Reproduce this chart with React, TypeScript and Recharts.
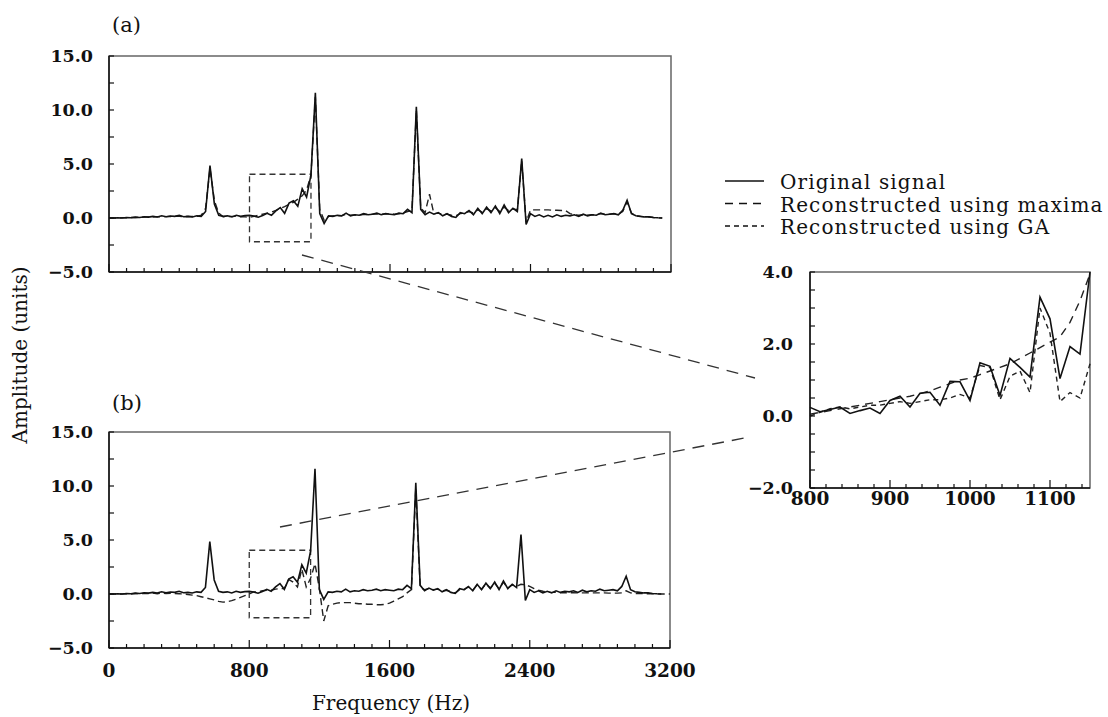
import { LineChart, Line, XAxis, YAxis, ReferenceArea } from 'recharts';

const SERIF = '"DejaVu Serif", "Liberation Serif", serif';
const INK = '#111';
const FRAME = '#666';

// full spectrum, 25 Hz steps
const freqs = Array.from({ length: 129 }, (_, i) => i * 25);

const original = [
  0.0, 0.0, 0.02, 0.0, 0.05, 0.02, 0.08, 0.05, 0.12, 0.08, 0.15, 0.1, 0.2, 0.12, 0.18, 0.15,
  0.25, 0.12, 0.15, 0.1, 0.2, 0.15, 0.6, 4.85, 1.3, 0.25, 0.15, 0.2, 0.1, 0.25, 0.15, 0.22,
  0.24, 0.18, 0.07, 0.22, 0.43, 0.25, 0.66, 0.96, 0.43, 1.38, 1.6, 1.08, 2.7, 1.93, 4.0, 11.6,
  0.4, -0.5, 0.2, 0.15, 0.25, 0.2, 0.45, 0.2, 0.3, 0.25, 0.4, 0.3, 0.35, 0.45, 0.3, 0.4,
  0.35, 0.3, 0.45, 0.4, 0.8, 0.5, 10.3, 0.8, 0.3, 0.55, 0.35, 0.5, 0.2, 0.4, 0.15, 0.05,
  0.5, 0.4, 0.7, 0.3, 0.9, 0.4, 1.0, 0.5, 1.1, 0.4, 1.2, 0.5, 0.9, 0.6, 5.5, -0.6,
  0.4, 0.15, 0.3, 0.1, 0.25, 0.1, 0.3, 0.15, 0.25, 0.2, 0.3, 0.15, 0.35, 0.2, 0.3, 0.25,
  0.45, 0.3, 0.35, 0.4, 0.3, 0.7, 1.65, 0.4, 0.2, 0.15, 0.1, 0.1, 0.05, 0.02, 0.0,
];

const maximaRecon = [
  0.0, 0.0, 0.01, 0.02, 0.03, 0.04, 0.05, 0.06, 0.08, 0.09, 0.1, 0.11, 0.12, 0.13, 0.14, 0.15,
  0.15, 0.14, 0.14, 0.14, 0.15, 0.25, 0.9, 4.6, 1.6, 0.45, 0.12, 0.14, 0.15, 0.15, 0.12, 0.1,
  0.05, 0.15, 0.25, 0.35, 0.45, 0.55, 0.7, 0.9, 1.05, 1.25, 1.45, 1.75, 2.05, 2.6, 3.95, 11.2,
  0.8, -0.2, 0.15, 0.18, 0.2, 0.22, 0.35, 0.25, 0.28, 0.28, 0.32, 0.32, 0.35, 0.38, 0.35, 0.38,
  0.38, 0.36, 0.4, 0.45, 0.6, 0.7, 10.0, 0.9, 0.5, 2.2, 0.4, 0.45, 0.35, 0.35, 0.25, 0.2,
  0.4, 0.45, 0.6, 0.45, 0.75, 0.55, 0.85, 0.65, 0.95, 0.6, 1.0, 0.7, 0.85, 0.75, 5.3, -0.4,
  0.75, 0.75, 0.75, 0.75, 0.75, 0.72, 0.72, 0.7, 0.68, 0.4, 0.3, 0.25, 0.3, 0.25, 0.3, 0.3,
  0.4, 0.35, 0.35, 0.4, 0.35, 0.6, 1.5, 0.45, 0.2, 0.15, 0.12, 0.1, 0.05, 0.02, 0.0,
];

const gaRecon = [
  0.0, 0.0, 0.0, 0.0, 0.02, 0.0, 0.05, 0.02, 0.05, 0.05, 0.08, 0.03, 0.1, 0.05, 0.06, 0.04,
  0.02, 0.0, -0.05, -0.1, -0.15, -0.25, -0.35, -0.45, -0.55, -0.68, -0.75, -0.72, -0.62, -0.48, -0.32, -0.15,
  0.0, 0.2, 0.2, 0.3, 0.35, 0.35, 0.45, 0.5, 0.5, 1.35, 1.1, 0.65, 2.3, 0.65, 1.45, 2.8,
  0.5, -2.5, -1.1, -0.95, -0.85, -0.8, -0.8, -0.8, -0.85, -0.9, -0.9, -0.95, -0.95, -1.0, -1.0, -0.95,
  -0.85, -0.65, -0.45, -0.25, 0.1, 0.4, 9.8, 0.6, 0.4, 0.5, 0.4, 0.45, 0.3, 0.35, 0.2, 0.1,
  0.4, 0.4, 0.65, 0.35, 0.85, 0.45, 0.95, 0.55, 1.0, 0.5, 1.1, 0.55, 0.85, 0.7, 0.9, 0.85,
  0.7, 0.5, 0.35, 0.25, 0.18, 0.15, 0.15, 0.12, 0.12, 0.12, 0.12, 0.1, 0.1, 0.1, 0.1, 0.1,
  0.1, 0.1, 0.08, 0.08, 0.08, 0.1, 0.3, 0.1, 0.05, 0.05, 0.03, 0.03, 0.02, 0.02, 0.0, 0.0, 0.0,
];

// zoomed window 800-1150 Hz, 12.5 Hz steps
const zoomFreqs = Array.from({ length: 29 }, (_, i) => 800 + i * 12.5);
const zoomOriginal = [
  0.24, 0.12, 0.18, 0.25, 0.07, 0.15, 0.22, 0.07, 0.43, 0.55, 0.25, 0.63, 0.66, 0.3, 0.96,
  0.95, 0.43, 1.48, 1.38, 0.57, 1.6, 1.35, 1.08, 3.3, 2.7, 1.04, 1.93, 1.72, 4.0,
];
const zoomMaxima = [
  0.05, 0.1, 0.15, 0.2, 0.25, 0.3, 0.35, 0.4, 0.45, 0.5, 0.55, 0.62, 0.7, 0.8, 0.9,
  1.0, 1.05, 1.15, 1.25, 1.35, 1.45, 1.6, 1.75, 1.9, 2.05, 2.2, 2.6, 3.2, 3.95,
];
const zoomGa = [
  0.0, 0.1, 0.2, 0.25, 0.2, 0.25, 0.3, 0.3, 0.35, 0.4, 0.35, 0.4, 0.45, 0.45, 0.5,
  0.6, 0.5, 1.4, 1.35, 0.45, 1.1, 1.25, 0.65, 3.0, 2.3, 0.4, 0.65, 0.5, 1.45,
];

const seriesNames = ['Original signal', 'Reconstructed using maxima', 'Reconstructed using GA'];
const seriesDash = ['', '8 6', '5 4'];

const mainTicksX = Array.from({ length: 33 }, (_, i) => i * 100);
const mainTicksY = [-5, -2.5, 0, 2.5, 5, 7.5, 10, 12.5, 15];
const zoomTicksX = Array.from({ length: 18 }, (_, i) => 800 + i * 20);
const zoomTicksY = [-2, -1.5, -1, -0.5, 0, 0.5, 1, 1.5, 2, 2.5, 3, 3.5, 4];

const spectrum = freqs.map((f, i) => ({ f, orig: original[i], maxima: maximaRecon[i], ga: gaRecon[i] }));
const zoomData = zoomFreqs.map((f, i) => ({ f, orig: zoomOriginal[i], maxima: zoomMaxima[i], ga: zoomGa[i] }));

const fmt = (v: number) => v.toFixed(1).replace('-', '\u2212');
const isMult = (v: number, m: number) => Math.abs(v / m - Math.round(v / m)) < 1e-6;

function xTick(labelEvery: number, majorEvery: number, showLabels: boolean, labelDy: number) {
  return (props: any) => {
    const { x, y, payload } = props;
    const v = payload.value;
    return (
      <g>
        <line x1={x} y1={y} x2={x} y2={y - (isMult(v, majorEvery) ? 8 : 4)} stroke={INK} strokeWidth={1.2} />
        {showLabels && isMult(v, labelEvery) && (
          <text x={x} y={y + labelDy} textAnchor="middle" fontFamily={SERIF} fontWeight="bold" fontSize={18.5} fill={INK}>
            {v}
          </text>
        )}
      </g>
    );
  };
}

function yTick(labelEvery: number, gap: number) {
  return (props: any) => {
    const { x, y, payload } = props;
    const v = payload.value;
    return (
      <g>
        <line x1={x} y1={y} x2={x + 5} y2={y} stroke={INK} strokeWidth={1.2} />
        {isMult(v, labelEvery) && (
          <text x={x - gap} y={y + 6} textAnchor="end" fontFamily={SERIF} fontWeight="bold" fontSize={17.5} fill={INK}>
            {fmt(v)}
          </text>
        )}
      </g>
    );
  };
}

function SpectrumPanel({ top, height, margin, xAxisHeight, showLabels, recon, dash }: any) {
  return (
    <div style={{ position: 'absolute', left: 0, top }}>
      <LineChart width={700} height={height} data={spectrum} margin={margin}>
        <ReferenceArea x1={0} x2={3200} y1={-5} y2={15} fill="none" stroke={FRAME} strokeWidth={1.5} ifOverflow="visible" />
        <ReferenceArea x1={800} x2={1150} y1={-2.2} y2={4.05} fill="none" stroke="#333" strokeWidth={1.3} strokeDasharray="6 4" ifOverflow="visible" />
        <XAxis
          dataKey="f"
          type="number"
          domain={[0, 3200]}
          ticks={mainTicksX}
          interval={0}
          height={xAxisHeight}
          tickSize={0}
          tickMargin={0}
          tickLine={false}
          axisLine={{ stroke: INK, strokeWidth: 1.5 }}
          tick={xTick(800, 800, showLabels, 29)}
        />
        <YAxis
          type="number"
          domain={[-5, 15]}
          ticks={mainTicksY}
          interval={0}
          width={70}
          tickSize={0}
          tickMargin={0}
          tickLine={false}
          axisLine={{ stroke: INK, strokeWidth: 1.5 }}
          tick={yTick(5, 16)}
        />
        <Line type="linear" dataKey={recon} stroke="#222" strokeWidth={1.4} strokeDasharray={dash} dot={false} isAnimationActive={false} />
        <Line type="linear" dataKey="orig" stroke={INK} strokeWidth={1.6} dot={false} isAnimationActive={false} />
      </LineChart>
    </div>
  );
}

function ZoomPanel() {
  return (
    <div style={{ position: 'absolute', left: 740, top: 250 }}>
      <LineChart width={368} height={280} data={zoomData} margin={{ top: 22, right: 18, left: 10, bottom: 0 }}>
        <ReferenceArea x1={800} x2={1150} y1={-2} y2={4} fill="none" stroke={FRAME} strokeWidth={1.5} ifOverflow="visible" />
        <XAxis
          dataKey="f"
          type="number"
          domain={[800, 1150]}
          ticks={zoomTicksX}
          interval={0}
          height={42}
          tickSize={0}
          tickMargin={0}
          tickLine={false}
          axisLine={{ stroke: INK, strokeWidth: 1.5 }}
          tick={xTick(100, 100, true, 17)}
        />
        <YAxis
          type="number"
          domain={[-2, 4]}
          ticks={zoomTicksY}
          interval={0}
          width={60}
          tickSize={0}
          tickMargin={0}
          tickLine={false}
          axisLine={{ stroke: INK, strokeWidth: 1.5 }}
          tick={yTick(2, 17)}
        />
        <Line type="linear" dataKey="maxima" stroke="#222" strokeWidth={1.4} strokeDasharray={seriesDash[1]} dot={false} isAnimationActive={false} />
        <Line type="linear" dataKey="ga" stroke="#222" strokeWidth={1.4} strokeDasharray={seriesDash[2]} dot={false} isAnimationActive={false} />
        <Line type="linear" dataKey="orig" stroke={INK} strokeWidth={1.6} dot={false} isAnimationActive={false} />
      </LineChart>
    </div>
  );
}

export default function App() {
  return (
    <div style={{ position: 'fixed', left: 0, top: 0, width: 1108, height: 717, overflow: 'hidden', background: '#fff' }}>
      <SpectrumPanel top={0} height={300} margin={{ top: 56, right: 29, left: 39, bottom: 0 }} xAxisHeight={28} showLabels={false} recon="maxima" dash="7 4" />
      <SpectrumPanel top={380} height={320} margin={{ top: 52, right: 30, left: 39, bottom: 0 }} xAxisHeight={52} showLabels={true} recon="ga" dash="7 4" />
      <ZoomPanel />
      <svg width={1108} height={717} style={{ position: 'absolute', left: 0, top: 0, pointerEvents: 'none' }}>
        <text x={112} y={32} fontFamily={SERIF} fontSize={21} fill={INK}>(a)</text>
        <text x={112} y={410} fontFamily={SERIF} fontSize={21} fill={INK}>(b)</text>
        <text x={27} y={355} transform="rotate(-90 27 355)" textAnchor="middle" fontFamily={SERIF} fontSize={20} fill={INK}>
          Amplitude (units)
        </text>
        <text x={391} y={710} textAnchor="middle" fontFamily={SERIF} fontSize={20} fill={INK}>
          Frequency (Hz)
        </text>
        <line x1={302} y1={255} x2={755} y2={378} stroke="#333" strokeWidth={1.3} strokeDasharray="12 8" />
        <line x1={280} y1={527} x2={750} y2={437} stroke="#333" strokeWidth={1.3} strokeDasharray="12 8" />
        {seriesNames.map((name, i) => (
          <g key={name}>
            <line x1={725} x2={764} y1={181 + i * 22.5} y2={181 + i * 22.5} stroke={INK} strokeWidth={1.4} strokeDasharray={seriesDash[i] || undefined} />
            <text x={780} y={189 + i * 22.5} fontFamily={SERIF} fontSize={20} letterSpacing={1.1} fill={INK}>
              {name}
            </text>
          </g>
        ))}
      </svg>
    </div>
  );
}
